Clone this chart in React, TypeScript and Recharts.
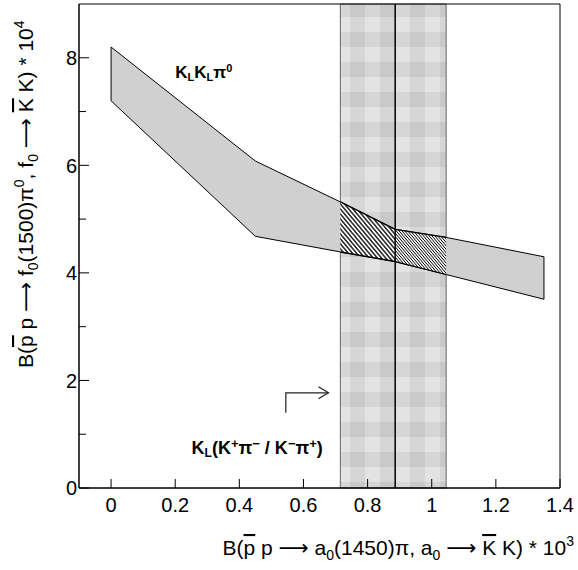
import React from "react";
import {
  ComposedChart,
  Area,
  Line,
  XAxis,
  YAxis,
  ReferenceArea,
  ReferenceLine,
  ReferenceDot,
} from "recharts";

// band edges
const bandX = [0, 0.45, 0.715, 0.886, 1.045, 1.35];
const bandHigh = [8.2, 6.08, 5.32, 4.81, 4.66, 4.3];
const bandLow = [7.2, 4.68, 4.39, 4.21, 3.97, 3.51];

// K_L (K+pi- / K-pi+) strip
const stripFrom = 0.715;
const stripMid = 0.886;
const stripTo = 1.045;

const arrowX = [0.545, 0.545, 0.678];
const arrowY = [1.4, 1.77, 1.77];

const xTicks = [0, 0.2, 0.4, 0.6, 0.8, 1, 1.2, 1.4];
const yTicks = [0, 1, 2, 3, 4, 5, 6, 7, 8];
const yLabelled = [0, 2, 4, 6, 8];

const labelKLKL = { x: 0.2, y: 7.62 };
const labelKL = { x: 0.251, y: 0.64 };

const FONT = "'Liberation Sans', Arial, Helvetica, sans-serif";
const ARROW_FONT = "'DejaVu Sans', sans-serif";

const band = bandX.map((x, i) => ({ x, range: [bandLow[i], bandHigh[i]] }));
const hatchLeft = band.filter((d) => d.x >= stripFrom && d.x <= stripMid);
const hatchRight = band.filter((d) => d.x >= stripMid && d.x <= stripTo);
const arrow = arrowX.map((x, i) => ({ x, y: arrowY[i] }));
const last = bandX.length - 1;

const YTick = (props: any) => {
  const { x, y, payload } = props;
  const v = payload.value;
  const major = yLabelled.includes(v);
  const ax = x + 2;
  return (
    <g>
      <line x1={ax} x2={ax + (major ? 10 : 7)} y1={y} y2={y} stroke="#000" />
      {major && (
        <text x={x} y={y} dy="0.36em" textAnchor="end" fontSize={20} fontFamily={FONT} fill="#000">
          {v}
        </text>
      )}
    </g>
  );
};

const XTick = (props: any) => {
  const { x, y, payload } = props;
  const v = Math.round(payload.value * 10) / 10;
  return (
    <g>
      <line x1={x} x2={x} y1={y} y2={y - 9} stroke="#000" />
      <text x={x} y={y + 24} textAnchor="middle" fontSize={20} fontFamily={FONT} fill="#000">
        {String(v)}
      </text>
    </g>
  );
};

const ArrowDot = (props: any) => {
  const { cx, cy, index } = props;
  if (index !== arrow.length - 1) return <g key={index} />;
  return (
    <path
      key={index}
      d={`M${cx - 10},${cy - 6} L${cx},${cy} L${cx - 10},${cy + 6}`}
      fill="none"
      stroke="#222"
      strokeWidth={1.2}
    />
  );
};

const KLKLText = (props: any) => (
  <text x={props.cx} y={props.cy} fontSize={17} fontWeight="bold" fontFamily={FONT} fill="#000">
    K<tspan fontSize={11} dy={3}>L</tspan>
    <tspan dy={-3}>K</tspan>
    <tspan fontSize={11} dy={3}>L</tspan>
    <tspan dy={-3}>π</tspan>
    <tspan fontSize={11} dy={-6}>0</tspan>
  </text>
);

const KLText = (props: any) => (
  <text x={props.cx} y={props.cy} fontSize={18} fontWeight="bold" fontFamily={FONT} fill="#000">
    K<tspan fontSize={12} dy={3}>L</tspan>
    <tspan dy={-3}>(K</tspan>
    <tspan fontSize={13} dy={-6}>+</tspan>
    <tspan dy={6}>π</tspan>
    <tspan fontSize={13} dy={-6}>−</tspan>
    <tspan dy={6}> / K</tspan>
    <tspan fontSize={13} dy={-6}>−</tspan>
    <tspan dy={6}>π</tspan>
    <tspan fontSize={13} dy={-6}>+</tspan>
    <tspan dy={6}>)</tspan>
  </text>
);

export default function App() {
  return (
    <div style={{ position: "absolute", left: 0, top: 0, width: 578, height: 570, background: "#fff" }}>
      <svg width={578} height={570} style={{ position: "absolute", left: 0, top: 0 }}>
        <defs>
          <pattern id="gingham" patternUnits="userSpaceOnUse" x={20} y={2} width={30} height={30}>
            <rect width={30} height={30} fill="#e3e3e3" />
            <rect x={0} y={0} width={15} height={30} fill="#000" fillOpacity={0.06} />
            <rect x={0} y={0} width={30} height={15} fill="#000" fillOpacity={0.06} />
          </pattern>
          <pattern id="hatchA" patternUnits="userSpaceOnUse" width={8} height={3.2} patternTransform="rotate(50)">
            <rect width={8} height={3.2} fill="#fff" />
            <line x1={0} x2={8} y1={1.6} y2={1.6} stroke="#000" strokeWidth={1.3} />
          </pattern>
          <pattern id="hatchB" patternUnits="userSpaceOnUse" width={8} height={2.2} patternTransform="rotate(50)">
            <rect width={8} height={2.2} fill="#fff" />
            <line x1={0} x2={8} y1={1.1} y2={1.1} stroke="#000" strokeWidth={0.8} />
          </pattern>
        </defs>
        <text x={574} y={555} textAnchor="end" fontSize={21} fontFamily={FONT} fill="#000">
          B(<tspan textDecoration="overline">p</tspan> p <tspan fontFamily={ARROW_FONT}>⟶</tspan> a
          <tspan fontSize={14} dy={5}>0</tspan>
          <tspan dy={-5}>(1450)π, a</tspan>
          <tspan fontSize={14} dy={5}>0</tspan>
          <tspan dy={-5}> </tspan>
          <tspan fontFamily={ARROW_FONT}>⟶</tspan> <tspan textDecoration="overline">K</tspan> K) * 10
          <tspan fontSize={14} dy={-9}>3</tspan>
        </text>
        <text transform="rotate(-90)" x={-368} y={33} fontSize={21} fontFamily={FONT} fill="#000">
          B(<tspan textDecoration="overline">p</tspan> p <tspan fontFamily={ARROW_FONT}>⟶</tspan> f
          <tspan fontSize={14} dy={5}>0</tspan>
          <tspan dy={-5}>(1500)π</tspan>
          <tspan fontSize={14} dy={-9}>0</tspan>
          <tspan dy={9}>, f</tspan>
          <tspan fontSize={14} dy={5}>0</tspan>
          <tspan dy={-5}> </tspan>
          <tspan fontFamily={ARROW_FONT}>⟶</tspan> <tspan textDecoration="overline">K</tspan> K) * 10
          <tspan fontSize={14} dy={-9}>4</tspan>
        </text>
      </svg>
      <div style={{ position: "absolute", left: 0, top: 0 }}>
        <ComposedChart width={578} height={570} margin={{ top: 4, right: 18, bottom: 0, left: 0 }}>
          <XAxis
            dataKey="x"
            type="number"
            domain={[-0.1, 1.4]}
            ticks={xTicks}
            interval={0}
            tickSize={0}
            tickMargin={0}
            tick={XTick}
            height={82}
            axisLine={{ stroke: "#000" }}
            allowDataOverflow
          />
          <YAxis
            type="number"
            domain={[0, 9]}
            ticks={yTicks}
            interval={0}
            tickSize={0}
            tickMargin={2}
            tick={YTick}
            width={79}
            axisLine={{ stroke: "#000" }}
            allowDataOverflow
          />
          <ReferenceArea
            x1={stripFrom}
            x2={stripTo}
            y1={0}
            y2={9}
            fill="url(#gingham)"
            fillOpacity={1}
            stroke="#666"
            strokeWidth={1}
            zIndex={50}
          />
          <Area
            data={band}
            dataKey="range"
            type="linear"
            fill="#d0d0d0"
            fillOpacity={1}
            stroke="#000"
            strokeWidth={1}
            dot={false}
            activeDot={false}
            isAnimationActive={false}
            zIndex={100}
          />
          <Area
            data={hatchLeft}
            dataKey="range"
            type="linear"
            fill="url(#hatchA)"
            fillOpacity={1}
            stroke="#000"
            strokeWidth={1.5}
            dot={false}
            activeDot={false}
            isAnimationActive={false}
            zIndex={110}
          />
          <Area
            data={hatchRight}
            dataKey="range"
            type="linear"
            fill="url(#hatchB)"
            fillOpacity={1}
            stroke="#000"
            strokeWidth={1.2}
            dot={false}
            activeDot={false}
            isAnimationActive={false}
            zIndex={110}
          />
          <ReferenceLine
            segment={[
              { x: bandX[0], y: bandLow[0] },
              { x: bandX[0], y: bandHigh[0] },
            ]}
            stroke="#000"
            zIndex={120}
          />
          <ReferenceLine
            segment={[
              { x: bandX[last], y: bandLow[last] },
              { x: bandX[last], y: bandHigh[last] },
            ]}
            stroke="#000"
            zIndex={120}
          />
          <ReferenceLine x={stripMid} stroke="#000" strokeWidth={1.5} zIndex={450} />
          <Line
            data={arrow}
            dataKey="y"
            type="linear"
            stroke="#222"
            strokeWidth={1.2}
            dot={ArrowDot}
            activeDot={false}
            isAnimationActive={false}
          />
          <ReferenceDot x={labelKLKL.x} y={labelKLKL.y} r={0} shape={KLKLText} />
          <ReferenceDot x={labelKL.x} y={labelKL.y} r={0} shape={KLText} />
          <ReferenceArea x1={-0.1} x2={1.4} y1={0} y2={9} fill="none" stroke="#000" strokeWidth={1} zIndex={600} />
        </ComposedChart>
      </div>
    </div>
  );
}
